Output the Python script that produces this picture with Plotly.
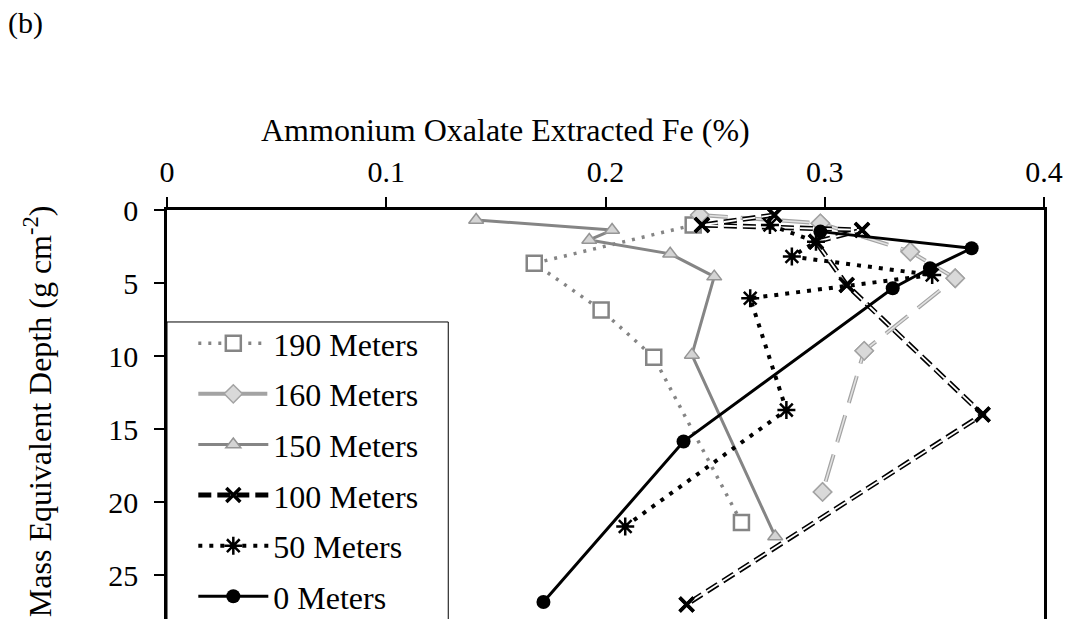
import plotly.graph_objects as go

FONT = "Liberation Serif, Times New Roman, serif"

# Ammonium oxalate extracted Fe (%) versus mass equivalent depth (g cm-2)
fe_190 = [0.240, 0.1675, 0.198, 0.222, 0.262]
depth_190 = [1.03, 3.65, 6.84, 10.08, 21.4]

fe_160 = [0.243, 0.298, 0.339, 0.3595, 0.318, 0.299]
depth_160 = [0.34, 0.91, 2.85, 4.67, 9.64, 19.3]

fe_150 = [0.141, 0.203, 0.1926, 0.2295, 0.2496, 0.2394, 0.2774]
depth_150 = [0.68, 1.37, 2.05, 3.0, 4.56, 9.92, 22.35]

fe_100 = [0.277, 0.244, 0.317, 0.296, 0.310, 0.372, 0.237]
depth_100 = [0.34, 1.03, 1.37, 2.17, 5.13, 14.0, 27.0]

fe_50 = [0.275, 0.296, 0.285, 0.349, 0.266, 0.2825, 0.209]
depth_50 = [1.03, 2.17, 3.19, 4.45, 6.04, 13.7, 21.66]

fe_0 = [0.298, 0.367, 0.348, 0.331, 0.2356, 0.1717]
depth_0 = [1.48, 2.62, 3.99, 5.36, 15.85, 26.84]

x_ticks = [0, 0.1, 0.2, 0.3, 0.4]
x_tick_text = ["0", "0.1", "0.2", "0.3", "0.4"]
y_ticks = [0, 5, 10, 15, 20, 25]

fig = go.Figure()

# 190 Meters: grey dotted line, open squares
fig.add_trace(go.Scatter(
    x=fe_190, y=depth_190, name="190 Meters", mode="lines+markers",
    legendgroup="g190",
    line=dict(color="#858585", width=3.5, dash="3px,7px"),
    marker=dict(symbol="square", size=15, color="white",
                line=dict(color="#858585", width=2.5)),
))

# 160 Meters: light grey outlined long dashes, grey diamonds
fig.add_trace(go.Scatter(
    x=fe_160, y=depth_160, name="160 Meters", mode="lines+markers",
    legendgroup="g160",
    line=dict(color="#a3a3a3", width=4, dash="28px,13px"),
    marker=dict(symbol="diamond", size=14, color="#d9d9d9",
                line=dict(color="#a3a3a3", width=1.5)),
))
fig.add_trace(go.Scatter(
    x=fe_160, y=depth_160, mode="lines", legendgroup="g160", showlegend=False,
    line=dict(color="#e2e2e2", width=1.6, dash="28px,13px"), hoverinfo="skip",
))
fig.add_trace(go.Scatter(
    x=fe_160, y=depth_160, mode="markers", legendgroup="g160", showlegend=False,
    marker=dict(symbol="diamond", size=14, color="#d9d9d9",
                line=dict(color="#a3a3a3", width=1.5)), hoverinfo="skip",
))

# 150 Meters: grey solid line, triangles
fig.add_trace(go.Scatter(
    x=fe_150, y=depth_150, name="150 Meters", mode="lines+markers",
    legendgroup="g150",
    line=dict(color="#858585", width=3),
    marker=dict(symbol="triangle-up", size=13, color="#d4d4d4",
                line=dict(color="#959595", width=1.5)),
))

# 100 Meters: black outlined dashes, crosses
fig.add_trace(go.Scatter(
    x=fe_100, y=depth_100, name="100 Meters", mode="lines+markers",
    legendgroup="g100",
    line=dict(color="black", width=5, dash="13px,6px"),
    marker=dict(symbol="x-thin-open", size=14, color="black",
                line=dict(color="black", width=3.5)),
))
fig.add_trace(go.Scatter(
    x=fe_100, y=depth_100, mode="lines", legendgroup="g100", showlegend=False,
    line=dict(color="white", width=1.8, dash="13px,6px"), hoverinfo="skip",
))
fig.add_trace(go.Scatter(
    x=fe_100, y=depth_100, mode="markers", legendgroup="g100", showlegend=False,
    marker=dict(symbol="x-thin-open", size=14, color="black",
                line=dict(color="black", width=3.5)), hoverinfo="skip",
))

# 50 Meters: black dotted line, asterisks
fig.add_trace(go.Scatter(
    x=fe_50, y=depth_50, name="50 Meters", mode="lines+markers",
    legendgroup="g50",
    line=dict(color="black", width=4, dash="4px,7px"),
    marker=dict(symbol="asterisk-open", size=15, color="black",
                line=dict(color="black", width=2.5)),
))

# 0 Meters: black solid line, filled circles
fig.add_trace(go.Scatter(
    x=fe_0, y=depth_0, name="0 Meters", mode="lines+markers",
    legendgroup="g0",
    line=dict(color="black", width=3),
    marker=dict(symbol="circle", size=14, color="black"),
))

fig.update_layout(
    width=1070, height=619,
    margin=dict(l=167, r=26, t=210, b=0, autoexpand=False),
    paper_bgcolor="white", plot_bgcolor="white",
    font=dict(family=FONT, size=30, color="black"),
    showlegend=True,
    legend=dict(
        x=0.030, xanchor="left", y=0.741, yanchor="top",
        bgcolor="rgba(0,0,0,0)", borderwidth=0,
        font=dict(family=FONT, size=32, color="black"),
        itemwidth=70, tracegroupgap=6,
    ),
    # white framed box behind the legend entries
    shapes=[dict(type="rect", xref="paper", yref="paper",
                 x0=0, x1=0.3207, y0=-0.2, y1=0.7262,
                 line=dict(color="black", width=1), fillcolor="white",
                 layer="below")],
    xaxis=dict(
        side="top", range=[0, 0.4], tickvals=x_ticks, ticktext=x_tick_text,
        showgrid=False, zeroline=False, showline=True, linecolor="black",
        linewidth=2.5, ticks="outside", ticklen=10, tickwidth=2,
        tickcolor="black", ticklabelstandoff=3, automargin=False,
    ),
    yaxis=dict(
        range=[28, 0], tickvals=y_ticks, showgrid=False, zeroline=False,
        showline=True, linecolor="black", linewidth=2.5, mirror=True,
        ticks="outside", ticklen=10, tickwidth=2, tickcolor="black",
        ticklabelstandoff=10, automargin=False,
    ),
    annotations=[
        dict(text="Ammonium Oxalate Extracted Fe (%)", xref="paper", yref="paper",
             x=0.3856, y=1.1956, xanchor="center", yanchor="middle",
             showarrow=False, font=dict(family=FONT, size=32)),
        dict(text="Mass Equivalent Depth (g cm<sup>-2</sup>)", xref="paper",
             yref="paper", x=-0.147, y=0.506, xanchor="center", yanchor="middle",
             textangle=-90, showarrow=False, font=dict(family=FONT, size=32)),
        dict(text="(b)", xref="paper", yref="paper", x=-0.1615, y=1.457,
             xanchor="center", yanchor="middle", showarrow=False,
             font=dict(family=FONT, size=30)),
    ],
)

fig.write_html("out.html")
